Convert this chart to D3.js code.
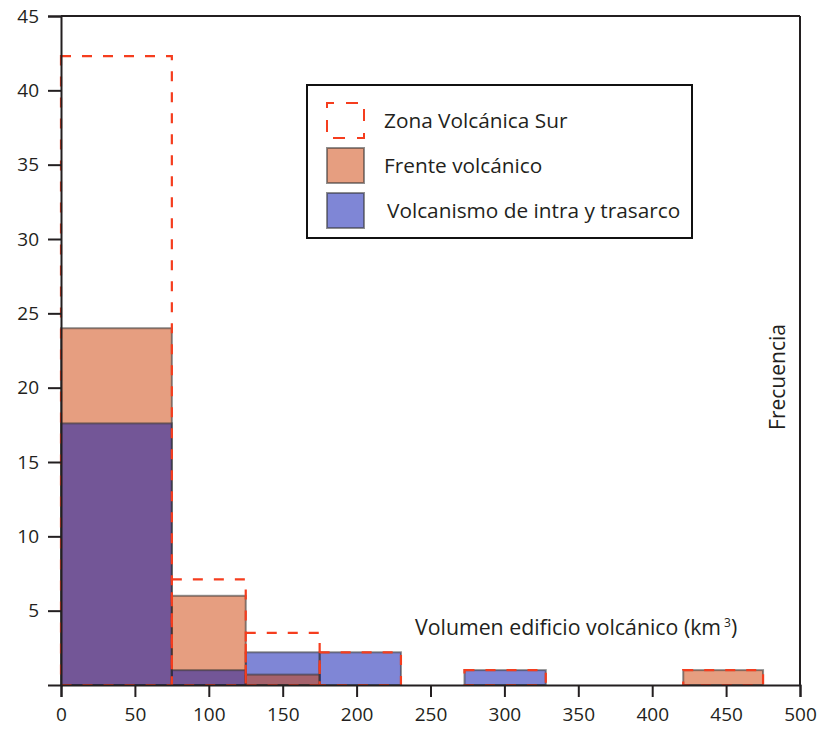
<!DOCTYPE html>
<html>
<head>
<meta charset="utf-8">
<script src="https://cdn.jsdelivr.net/npm/d3@7/dist/d3.min.js"></script>
<style>
  body { margin: 0; background: #fff; }
  svg text { font-family: "Open Sans", Lato, sans-serif; fill: #231f20; }
</style>
</head>
<body>
<div id="chart"></div>
<script>
// histogram bins (km3)
var binStart = [0, 75, 125, 175, 273, 421];
var binEnd   = [75, 125, 175, 230, 328, 475];
// frecuencias
var zonaSur = [42.3, 7.1, 3.5, 2.2, 1, 1];
var frente  = [24, 6, 0.7, 0, 0, 1];
var intra   = [17.6, 1, 2.2, 2.2, 1, 0];

var xTicks = [0, 50, 100, 150, 200, 250, 300, 350, 400, 450, 500];
var yTicks = [5, 10, 15, 20, 25, 30, 35, 40, 45];

var legendNames = ["Zona Volcánica Sur", "Frente volcánico", "Volcanismo de intra y trasarco"];

var svgW = 821, svgH = 734,
  margin = {top: 16, right: 21, bottom: 49, left: 61},
  w = svgW - margin.left - margin.right,
  h = svgH - margin.top - margin.bottom;

var colFrente = "rgb(205,61,1)", colIntra = "rgb(0,13,173)", colZona = "#f53d1e";

var svg = d3.select("#chart").append("svg")
  .attr("width", svgW).attr("height", svgH);
var g = svg.append("g")
  .attr("transform", "translate(" + margin.left + "," + margin.top + ")");

var x = d3.scaleLinear().domain([0, 500]).range([0, w]);
var y = d3.scaleLinear().domain([0, 45]).range([h, 0]);

// bars: for each bin the taller series first, the shorter one on top
var bins = binStart.map(function(s, i) {
  var a = {v: frente[i], c: colFrente}, b = {v: intra[i], c: colIntra};
  var arr = a.v >= b.v ? [a, b] : [b, a];
  return arr.filter(function(d) { return d.v > 0; })
    .map(function(d) { return {x0: s, x1: binEnd[i], v: d.v, c: d.c}; });
});
var flat = [];
bins.forEach(function(b) { b.forEach(function(d) { flat.push(d); }); });

g.selectAll(".bar").data(flat).enter().append("rect")
  .attr("class", "bar")
  .attr("x", d => x(d.x0))
  .attr("width", d => x(d.x1) - x(d.x0))
  .attr("y", d => y(d.v))
  .attr("height", d => y(0) - y(d.v))
  .attr("fill", d => d.c)
  .attr("fill-opacity", 0.5)
  .attr("stroke", "#333")
  .attr("stroke-opacity", 0.55)
  .attr("stroke-width", 2);

// dashed outline for Zona Volcanica Sur
g.selectAll(".zona").data(zonaSur).enter().append("rect")
  .attr("class", "zona")
  .attr("x", (d, i) => x(binStart[i]))
  .attr("width", (d, i) => x(binEnd[i]) - x(binStart[i]))
  .attr("y", d => y(d))
  .attr("height", d => y(0) - y(d))
  .attr("fill", "none")
  .attr("stroke", colZona)
  .attr("stroke-width", 2.2)
  .attr("stroke-dasharray", "10,11");

// axes
var xAxis = g.append("g")
  .attr("transform", "translate(0," + h + ")")
  .call(d3.axisBottom(x).tickValues(xTicks).tickSize(12).tickPadding(11));
var yAxis = g.append("g")
  .call(d3.axisLeft(y).tickValues(yTicks).tickSize(13).tickPadding(9));
[xAxis, yAxis].forEach(function(a) {
  a.select(".domain").attr("stroke", "#231f20").attr("stroke-width", 2);
  a.selectAll(".tick line").attr("stroke", "#231f20").attr("stroke-width", 2);
  a.selectAll(".tick text").style("font-size", "19px").attr("fill", "#231f20");
});
// frame top and right
g.append("line").attr("x1", 0).attr("x2", w).attr("y1", 0).attr("y2", 0)
  .attr("stroke", "#231f20").attr("stroke-width", 2);
g.append("line").attr("x1", w).attr("x2", w).attr("y1", 0).attr("y2", h)
  .attr("stroke", "#231f20").attr("stroke-width", 2);

// axis titles
var xl = g.append("text")
  .attr("x", 354).attr("y", 619)
  .style("font-size", "21.3px");
xl.append("tspan").text("Volumen edificio volcánico (km");
xl.append("tspan").attr("dy", -8).attr("dx", 3).style("font-size", "12px").text("3");
xl.append("tspan").attr("dy", 8).text(")");

g.append("text")
  .attr("transform", "translate(724,361) rotate(-90)")
  .attr("text-anchor", "middle")
  .style("font-size", "21px")
  .text("Frecuencia");

// legend
var lg = svg.append("g").attr("transform", "translate(307,85)");
lg.append("rect").attr("width", 385).attr("height", 153)
  .attr("fill", "#fff").attr("stroke", "#111").attr("stroke-width", 2);
legendNames.forEach(function(n, i) {
  var yy = 18 + i * 45;
  var sw = lg.append("rect").attr("x", 20).attr("y", yy).attr("width", 37).attr("height", 35)
    .attr("stroke-width", 2);
  if (i === 0) {
    sw.attr("fill", "none").attr("stroke", colZona).attr("stroke-dasharray", "12,12")
      .attr("stroke-dashoffset", 5);
  } else {
    sw.attr("fill", i === 1 ? colFrente : colIntra).attr("fill-opacity", 0.5)
      .attr("stroke", "#333").attr("stroke-opacity", 0.55);
  }
  lg.append("text").attr("x", i === 2 ? 80 : 77).attr("y", yy + 25)
    .style("font-size", "20.8px").text(n);
});
</script>
</body>
</html>
